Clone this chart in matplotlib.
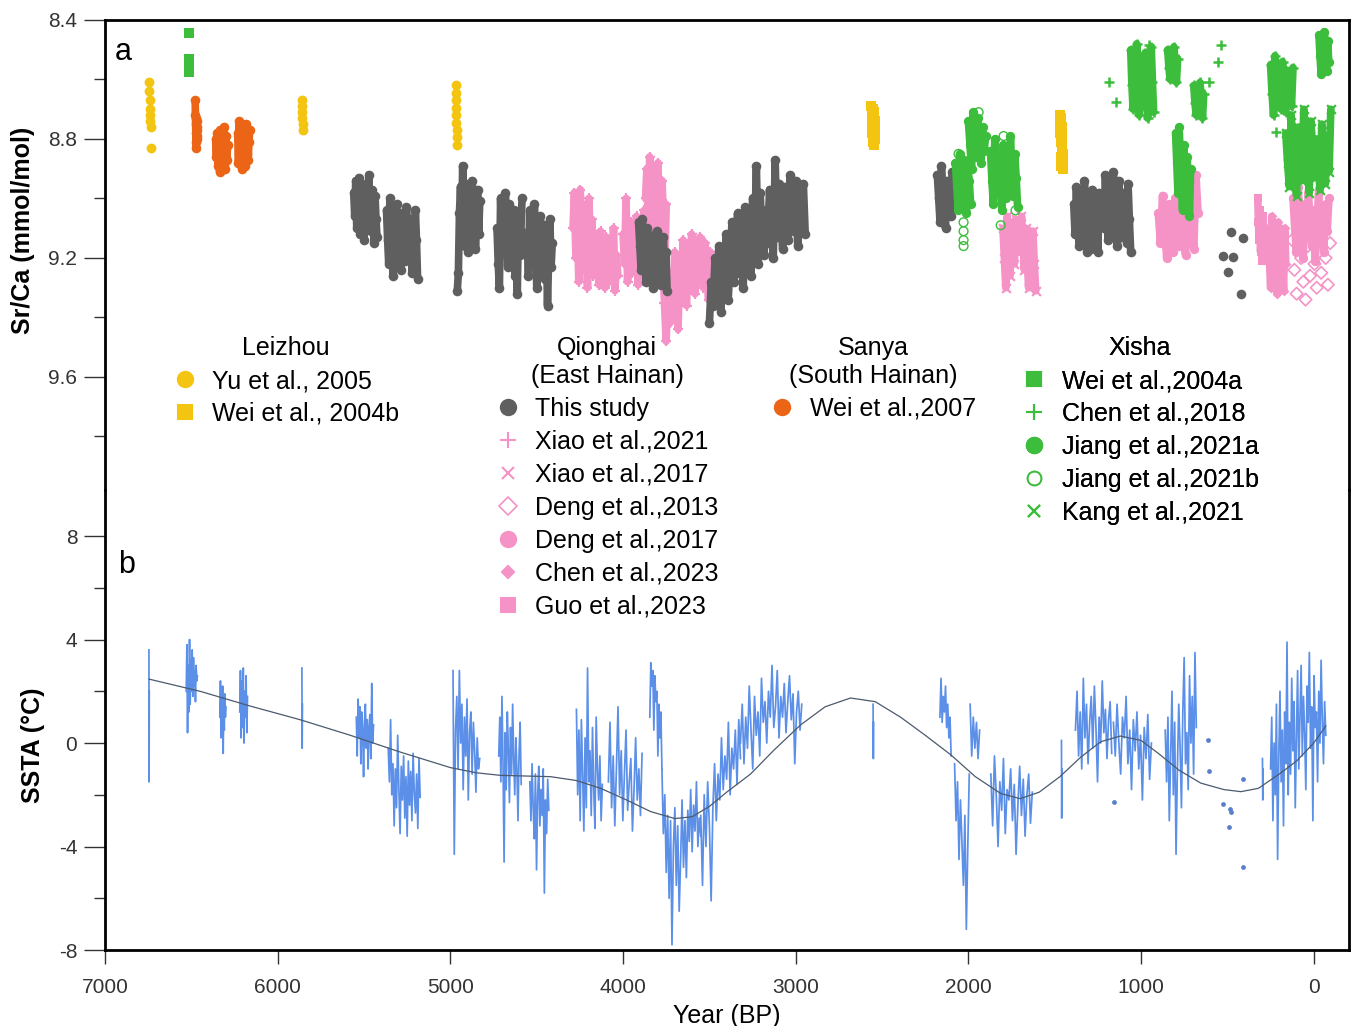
import numpy as np
import matplotlib.pyplot as plt
from matplotlib.lines import Line2D

plt.rcParams['font.family'] = ['Liberation Sans', 'DejaVu Sans']
plt.rcParams['axes.unicode_minus'] = False

YELLOW = '#f3c410'
ORANGE = '#ec6516'
GREY = '#5f5f5f'
PINK = '#f593c7'
GREEN = '#3cbd3c'
BLUE = '#5b8fe8'

# ---------------- panel a: Sr/Ca records (start age, end age, values) ----------------
yu2005 = [(6745, 6735, [8.61, 8.64, 8.67, 8.70, 8.72, 8.74, 8.76, 8.83]),
          (5862, 5855, [8.67, 8.69, 8.71, 8.73, 8.75, 8.77]),
          (4970, 4962, [8.62, 8.645, 8.67, 8.695, 8.72, 8.745, 8.77, 8.795, 8.82])]
wei2004b = [(2562, 2540, [8.69, 8.72, 8.75, 8.78, 8.81, 8.70, 8.73, 8.76, 8.79, 8.82, 8.71, 8.74, 8.77, 8.80]),
            (1470, 1452, [8.72, 8.75, 8.78, 8.81, 8.86, 8.89, 8.73, 8.76, 8.79, 8.82, 8.85, 8.88, 8.90])]
wei2007 = [(6478, 6465, [8.67, 8.72, 8.75, 8.78, 8.81, 8.83, 8.73, 8.76, 8.79, 8.74, 8.77, 8.80]),
           (6360, 6290, [8.80, 8.86, 8.78, 8.89, 8.83, 8.91, 8.77, 8.85, 8.81, 8.88, 8.76, 8.84, 8.90, 8.79, 8.87, 8.82]),
           (6232, 6162, [8.78, 8.88, 8.74, 8.84, 8.80, 8.90, 8.76, 8.86, 8.82, 8.89, 8.75, 8.85, 8.79, 8.87, 8.81, 8.77])]
wei2004a = [(6514, 6512, [8.445, 8.53, 8.55, 8.575])]

this_study = [
    (5560, 5425, [8.98, 9.06, 8.94, 9.10, 9.02, 8.93, 9.12, 9.00, 9.08, 8.96, 9.14, 9.04, 8.95, 9.09,
                  9.01, 8.92, 9.06, 9.11, 8.97, 9.03, 9.15, 8.99, 9.07, 9.13]),
    (5370, 5190, [9.04, 9.14, 9.22, 9.00, 9.10, 9.18, 9.26, 9.06, 9.16, 9.02, 9.12, 9.20, 9.08, 9.24, 9.05,
                  9.15, 9.11, 9.21, 9.03, 9.13, 9.19, 9.07, 9.17, 9.25, 9.09, 9.23, 9.04, 9.14, 9.27]),
    (4960, 4830, [9.31, 9.25, 9.05, 8.96, 9.12, 8.89, 9.00, 9.16, 8.95, 9.08, 9.18, 8.98, 9.04, 9.14, 8.94,
                  9.10, 9.02, 9.17, 9.06, 8.97, 9.12, 9.01]),
    (4730, 4585, [9.10, 9.22, 9.30, 9.00, 9.14, 9.06, 9.18, 8.98, 9.10, 9.23, 9.02, 9.16, 9.08, 9.20, 9.04,
                  9.26, 9.12, 9.32, 9.06, 9.19, 9.11, 9.00]),
    (4555, 4410, [9.12, 9.26, 9.04, 9.18, 9.08, 9.22, 9.02, 9.14, 9.30, 9.10, 9.20, 9.06, 9.16, 9.24, 9.09,
                  9.27, 9.13, 9.36, 9.19, 9.07, 9.23, 9.15]),
    (3910, 3745, [9.08, 9.16, 9.24, 9.07, 9.12, 9.20, 9.28, 9.10, 9.18, 9.26, 9.14, 9.22, 9.30, 9.12, 9.19,
                  9.11, 9.25, 9.16, 9.29, 9.21, 9.13, 9.27, 9.18, 9.31]),
    (3500, 2945, [9.42, 9.28, 9.36, 9.20, 9.32, 9.16, 9.38, 9.24, 9.30, 9.12, 9.34, 9.22, 9.08, 9.28, 9.18,
                  9.05, 9.25, 9.14, 9.30, 9.03, 9.20, 9.10, 9.26, 9.00, 9.16, 8.89, 9.22, 8.98, 9.12, 9.19,
                  9.04, 9.15, 8.97, 9.10, 9.20, 8.87, 9.13, 8.95, 9.08, 9.17, 8.96, 9.06, 9.14, 8.92, 9.02,
                  9.11, 8.94, 9.16, 9.00, 9.08, 8.95, 9.12]),
    (2180, 2085, [8.92, 9.00, 9.08, 8.89, 8.96, 9.04, 9.10, 8.94, 9.02, 8.98, 9.06, 8.91, 9.00]),
    (1390, 1235, [9.02, 9.12, 8.96, 9.08, 9.16, 8.99, 9.06, 9.14, 8.94, 9.04, 9.18, 9.00, 9.10, 9.17, 8.97,
                  9.07, 9.13, 9.03, 9.18, 8.98, 9.09]),
    (1222, 1060, [9.00, 9.10, 8.92, 9.06, 9.14, 8.96, 9.04, 9.12, 8.91, 9.02, 9.08, 9.16, 8.94, 9.06, 9.13,
                  8.98, 9.10, 9.01, 9.15, 8.95, 9.07, 9.18]),
]
this_study_age = [527, 498, 481, 469, 423, 411]
this_study_val = [9.193, 9.247, 9.113, 9.197, 9.321, 9.133]

xiao2021 = [
    (4290, 4030, [9.10, 8.98, 9.20, 9.05, 9.28, 8.97, 9.15, 9.02, 9.24, 9.10, 9.30, 9.00, 9.18, 9.07, 9.26,
                  9.12, 9.22, 9.15, 9.29, 9.11, 9.25, 9.17, 9.30, 9.13, 9.21, 9.28, 9.16, 9.24, 9.10, 9.31,
                  9.19, 9.26]),
    (4000, 3870, [9.12, 9.22, 9.00, 9.28, 9.16, 9.08, 9.25, 9.13, 9.20, 9.06, 9.29, 9.18, 9.10, 9.24, 9.04, 9.19]),
    (3870, 3750, [9.00, 8.90, 9.10, 8.86, 8.96, 9.06, 8.92, 9.14, 8.98, 8.88, 9.04, 9.18, 8.94, 9.08, 9.22, 9.02]),
    (3770, 3495, [9.20, 9.35, 9.48, 9.30, 9.42, 9.25, 9.38, 9.18, 9.32, 9.44, 9.22, 9.34, 9.14, 9.28, 9.36,
                  9.16, 9.30, 9.12, 9.24, 9.32, 9.15, 9.27, 9.13, 9.22, 9.30, 9.15, 9.26, 9.34, 9.18]),
]
xiao2017 = [(1800, 1610, [9.10, 9.20, 9.30, 9.06, 9.16, 9.26, 9.08, 9.12, 9.22, 9.07, 9.14, 9.09, 9.18, 9.06,
                          9.13, 9.24, 9.10, 9.20, 9.30, 9.15, 9.26, 9.11, 9.22, 9.31])]
deng2017 = [(900, 670, [9.05, 9.15, 8.99, 9.10, 9.20, 9.02, 9.12, 9.18, 9.00, 9.08, 9.16, 9.04, 9.13, 9.19,
                        9.06, 8.95, 9.10, 9.17, 8.92, 9.05]),
            (120, -88, [9.00, 9.10, 9.18, 8.96, 9.06, 9.14, 9.20, 9.02, 9.12, 8.98, 9.08, 9.16, 9.04, 9.21,
                        9.10, 8.97, 9.14, 9.06, 9.18, 9.02, 9.11, 9.00])]
guo2023 = [(324, 292, [9.00, 9.08, 9.14, 9.04, 9.18, 9.10, 9.21, 9.06, 9.16])]
chen2023 = [(262, 162, [9.10, 9.22, 9.30, 9.06, 9.16, 9.26, 9.12, 9.20, 9.32, 9.08, 9.18, 9.28, 9.14, 9.24,
                        9.31, 9.10, 9.22])]
deng2013 = [(125, -95, [9.14, 9.24, 9.32, 9.10, 9.20, 9.28, 9.34, 9.16, 9.26, 9.12, 9.22, 9.30, 9.18, 9.25,
                        9.08, 9.20, 9.29, 9.15])]

chen2018 = [(1060, 927, [8.50, 8.62, 8.70, 8.55, 8.66, 8.48, 8.60, 8.72, 8.53, 8.64, 8.58, 8.69, 8.51, 8.63,
                         8.73, 8.57, 8.67, 8.49, 8.61, 8.71]),
            (846, 788, [8.50, 8.56, 8.60, 8.52, 8.58, 8.49, 8.55, 8.61, 8.53]),
            (695, 637, [8.62, 8.68, 8.72, 8.64, 8.70, 8.61, 8.66, 8.73, 8.65]),
            (250, 120, [8.55, 8.65, 8.72, 8.52, 8.60, 8.68, 8.58, 8.70, 8.54, 8.63, 8.71, 8.57, 8.66, 8.62,
                        8.69, 8.56])]
chen2018_age = [1188, 1147, 956, 608, 556, 539, 220]
chen2018_val = [8.608, 8.676, 8.484, 8.608, 8.541, 8.484, 8.776]
jiang2021a = [(2075, 1987, [8.88, 8.96, 9.04, 8.85, 8.92, 9.00, 8.87, 8.98, 9.05, 8.90, 8.94, 9.02]),
              (2000, 1900, [8.74, 8.82, 8.90, 8.71, 8.78, 8.86, 8.73, 8.80, 8.88, 8.76, 8.84, 8.79]),
              (1872, 1715, [8.84, 8.94, 9.02, 8.80, 8.90, 8.98, 8.86, 8.96, 9.04, 8.82, 8.92, 9.00, 8.88, 8.95,
                            8.79, 8.91, 8.99, 8.85, 8.93, 9.03]),
              (800, 713, [8.78, 8.88, 8.98, 8.76, 8.84, 8.94, 9.04, 8.82, 8.92, 9.00, 8.86, 8.96, 9.06, 8.90]),
              (-30, -87, [8.45, 8.52, 8.58, 8.48, 8.55, 8.44, 8.50, 8.57, 8.47, 8.54])]
jiang2021b_age = [2028, 2028, 2028, 2028, 1813, 1941, 2057, 1796, 1727]
jiang2021b_val = [9.08, 9.11, 9.14, 9.16, 9.09, 8.71, 8.85, 8.79, 9.04]
kang2021 = [(162, -99, [8.78, 8.88, 8.96, 8.72, 8.84, 8.92, 8.99, 8.76, 8.86, 8.94, 8.70, 8.82, 8.90, 8.98,
                        8.74, 8.85, 8.93, 8.80, 8.89, 8.97, 8.75, 8.87, 8.95, 8.79, 8.91, 8.70])]

# ---------------- panel b: SSTA segments (start age, end age, values) ----------------
ssta = [
    (6746, 6744, [3.6, -1.5, 2.0]),
    (6530, 6465, [2.0, 3.8, 0.4, 3.0, 1.2, 4.0, 1.5, 3.2, 2.0, 3.6, 1.8, 3.3, 2.2, 2.8, 1.6, 3.0, 2.4, 2.6]),
    (6335, 6300, [1.0, 2.4, 0.2, 1.8, 0.8, 2.2, -0.4, 1.5, 0.5, 1.9, 1.0, 1.4]),
    (6220, 6175, [1.2, 2.8, 0.2, 2.4, 0.6, 2.9, 0.0, 2.0, 1.0, 2.6, 0.4, 1.8]),
    (5860, 5857, [2.9, -0.2, 1.5]),
    (5545, 5445, [1.0, -0.5, 1.7, 0.2, 1.4, -0.8, 1.2, 0.5, -1.3, 0.8, 1.5, -0.2, 0.9, -1.0, 0.6, 1.1, -0.6,
                  2.3, 0.0, 0.7]),
    (5360, 5175, [-0.2, -1.5, 0.9, -2.0, -0.8, -3.2, -1.0, -2.5, 0.3, -1.8, -3.5, -0.9, -2.2, -0.5, -2.9, -1.3,
                  -3.6, -0.7, -2.4, -1.1, -3.0, -0.4, -1.9, -2.7, -1.2, -3.3, -0.6, -2.1]),
    (4985, 4830, [2.8, -4.3, 0.5, 1.8, -1.0, 2.8, 0.0, 1.5, -1.8, 1.0, -0.5, 1.7, -2.2, 0.4, 1.2, -1.2, 0.8,
                  -0.3, -1.9, 0.2, -1.0, -0.6]),
    (4720, 4590, [-0.5, 1.0, -1.5, 1.8, -0.8, -4.6, 0.4, -1.8, 1.2, -0.2, -2.3, 0.6, -1.2, 1.5, -0.6, -2.0, 0.2,
                  -1.0, -3.0, -0.4, 0.8, -1.6]),
    (4540, 4430, [-1.5, -3.0, -0.8, -2.5, -3.7, -1.2, -4.9, -2.0, -0.9, -3.2, -1.8, -2.8, -1.0, -5.8, -2.2,
                  -3.5, -1.4, -2.6]),
    (4270, 4120, [1.3, -2.0, 0.5, -3.0, 0.9, -1.2, -3.4, 0.2, -2.5, 2.9, -1.5, -0.3, -2.8, 0.6, -1.8, -3.3, 1.0,
                  -1.0, -2.2, -0.5, -3.0, -1.6]),
    (4085, 3890, [-1.5, 0.8, -2.5, -0.5, -3.2, -1.0, 1.4, -2.0, -0.3, -3.0, -1.2, 0.5, -2.6, -1.5, -0.6, -3.4,
                  -1.8, 0.2, -2.2, -1.0, -2.8, -0.4]),
    (3845, 3775, [1.0, 3.1, 2.2, 2.8, 0.5, 2.6, 1.6, 2.0, -0.5, 1.5, 0.2, 1.2, -1.0]),
    (3775, 3550, [-1.0, -3.5, -2.0, -5.0, -2.8, -6.0, -3.0, -7.8, -4.0, -2.5, -5.5, -3.2, -6.5, -4.5, -2.2,
                  -4.8, -3.0, -5.2, -2.6, -3.8, -1.8, -4.2, -2.4, -3.4, -1.5, -4.0, -2.9, -3.6]),
    (3550, 3320, [-2.8, -5.5, -2.0, -4.0, -1.5, -3.2, -6.1, -2.5, -0.8, -3.0, -1.2, -2.2, 0.2, -1.8, -0.5, -1.4,
                  0.8, -2.0, -0.2, -1.0, 0.5, -1.6, 0.9, -0.6]),
    (3320, 2965, [0.0, 1.5, -0.8, 1.0, -0.2, 2.2, 0.5, -1.0, 1.8, 0.3, 1.2, -0.5, 2.5, 0.8, 1.6, 0.0, 2.0, 1.0,
                  3.0, 0.6, 1.4, 2.8, 0.2, 1.8, 1.0, 2.3, 0.4, 1.6, 2.6, 0.9, 1.9, -0.8, 1.2, 2.0, 0.5, 1.5]),
    (2552, 2549, [1.5, -0.6, 0.8]),
    (2165, 2100, [1.0, 2.5, 0.8, 1.8, 1.2, 2.2, 0.6, 1.5, 0.2, 1.0, -0.5]),
    (2080, 1995, [-0.8, -3.0, -1.5, -4.5, -2.2, -3.8, -5.5, -2.8, -7.2, -4.0, -1.2]),
    (1990, 1935, [1.5, -0.5, 1.0, -0.2, 0.8, -0.6, 0.5]),
    (1870, 1630, [-1.2, -3.2, -0.5, -2.0, -4.0, -1.5, -2.6, -0.6, -3.5, -1.8, -2.2, -1.0, -3.0, -1.6, -4.3,
                  -2.4, -0.9, -2.8, -1.4, -3.6, -2.0, -1.2, -3.1, -1.9]),
    (1461, 1458, [0.1, -2.9, -1.0]),
    (1380, 1170, [0.5, 2.0, -0.5, 1.2, -1.0, 2.5, 0.2, 1.5, -0.8, 0.8, 1.8, -0.2, 2.2, 0.6, -1.5, 1.0, 0.0, 2.4,
                  0.4, 1.3, -0.6, 0.9, 1.6, -0.4]),
    (1160, 940, [0.8, -0.5, 1.5, 0.0, -1.2, 1.0, 0.2, 1.8, -0.8, 0.5, -1.8, 0.9, -0.3, 1.2, -1.0, 0.3, -2.2, 0.6,
                 -0.6, 1.1, -1.4, 0.0]),
    (860, 680, [0.5, -1.5, 1.0, -3.0, -0.5, 2.0, -2.0, 0.8, -4.3, -1.0, 1.5, -0.2, -2.5, 1.2, 3.3, -0.8, 0.4,
                -1.8, 2.6, 0.0, 1.8, -1.2, 3.5, 0.6]),
    (297, 293, [-0.6, -2.2, -1.0]),
    (250, -70, [-1.0, 1.0, -3.0, 0.0, -2.0, 1.5, -4.5, -0.5, 2.0, -1.5, 0.5, -3.2, 1.2, -0.8, 3.9, -2.0, 0.8,
                -1.2, 2.5, -0.3, 1.6, -2.5, 0.2, 2.8, -1.0, 1.0, 3.0, -0.5, 1.8, 0.4, -1.8, 2.2, 0.8, 3.5, -0.2,
                1.4, -3.0, 2.6, 0.6, 1.2, -1.5, 2.0, 0.0, 3.2, 0.9, -0.8, 1.6, 0.3]),
]
ssta_dot_age = [614, 608, 1159, 527, 486, 481, 492, 411, 411]
ssta_dot_val = [0.12, -1.08, -2.28, -2.36, -2.55, -2.67, -3.25, -1.39, -4.79]

smooth_age = [6745, 6450, 6160, 5870, 5580, 5290, 5000, 4850, 4710, 4420, 4270, 4130, 3980, 3840, 3700,
              3600, 3500, 3400, 3262, 3130, 2972, 2830, 2683, 2540, 2393, 2250, 2103, 1960, 1813, 1700,
              1590, 1470, 1350, 1234, 1120, 1000, 900, 780, 654, 520, 422, 320, 200, 100, 0, -70]
smooth_val = [2.47, 2.0, 1.43, 0.9, 0.3, -0.35, -0.95, -1.15, -1.25, -1.3, -1.45, -1.75, -2.2, -2.65, -2.92,
              -2.85, -2.45, -1.9, -1.2, -0.3, 0.7, 1.4, 1.74, 1.6, 1.0, 0.3, -0.45, -1.3, -1.95, -2.15,
              -1.9, -1.3, -0.55, 0.05, 0.27, 0.1, -0.4, -1.05, -1.55, -1.8, -1.88, -1.75, -1.2, -0.7, 0.0, 0.66]


def draw_records(ax, records, color, marker, s, lw=0.0, band=True, z=3, **kw):
    # each coral record is a dense series; a thick line through its samples gives the solid cloud
    for start, end, vals in records:
        ages = np.linspace(start, end, len(vals))
        if band:
            ax.plot(ages, vals, color=color, lw=5.5, solid_joinstyle='round',
                    solid_capstyle='round', zorder=z)
        ax.scatter(ages, vals, color=color, marker=marker, s=s, linewidths=lw, zorder=z, **kw)


fig = plt.figure(figsize=(13.54, 10.26), dpi=100)
ax_b = fig.add_axes([0.0776, 0.07407, 0.9188, 0.44835])
ax_a = fig.add_axes([0.0776, 0.52242, 0.9188, 0.45809], sharex=ax_b)
ax_a.patch.set_visible(False)

# --- panel a: pink first, grey above, green on top
draw_records(ax_a, xiao2021, PINK, '+', 55, lw=1.6, z=2)
draw_records(ax_a, xiao2017, PINK, 'x', 40, lw=1.6, z=2)
draw_records(ax_a, deng2017, PINK, 'o', 45, z=2)
draw_records(ax_a, chen2023, PINK, 'D', 25, z=2)
draw_records(ax_a, guo2023, PINK, 's', 40, z=2)
for start, end, vals in deng2013:
    ax_a.scatter(np.linspace(start, end, len(vals)), vals, marker='D', s=40, facecolors='none',
                 edgecolors=PINK, linewidths=1.2, zorder=2)

draw_records(ax_a, yu2005, YELLOW, 'o', 50, band=False)
draw_records(ax_a, wei2004b, YELLOW, 's', 42)
draw_records(ax_a, wei2007, ORANGE, 'o', 48)
draw_records(ax_a, wei2004a, GREEN, 's', 45, band=False)
draw_records(ax_a, this_study, GREY, 'o', 48)
ax_a.scatter(this_study_age, this_study_val, color=GREY, marker='o', s=48, linewidths=0, zorder=3)

draw_records(ax_a, chen2018, GREEN, '+', 55, lw=1.8, z=4)
ax_a.scatter(chen2018_age, chen2018_val, color=GREEN, marker='+', s=55, linewidths=1.8, zorder=4)
draw_records(ax_a, jiang2021a, GREEN, 'o', 45, z=4)
ax_a.scatter(jiang2021b_age, jiang2021b_val, facecolors='none', edgecolors=GREEN, marker='o', s=40,
             linewidths=1.0, zorder=4)
draw_records(ax_a, kang2021, GREEN, 'x', 40, lw=1.6, z=4)

ax_a.set_ylim(9.98, 8.4)
ax_a.set_yticks([8.4, 8.8, 9.2, 9.6])
ax_a.set_yticks([8.6, 9.0, 9.4, 9.8], minor=True)
ax_a.set_ylabel('Sr/Ca (mmol/mol)', fontsize=18, fontweight='bold')
ax_a.yaxis.set_label_coords(-0.0563, 0.553)
ax_a.spines['bottom'].set_visible(False)
ax_a.tick_params(axis='x', which='both', bottom=False, labelbottom=False)
ax_a.text(0.0145, 0.932, 'a', transform=ax_a.transAxes, fontsize=22, va='center', ha='center')

# --- panel b
for start, end, vals in ssta:
    ages = np.linspace(start, end, len(vals))
    ax_b.plot(ages, vals, color=BLUE, lw=1.25, zorder=2)
ax_b.scatter(ssta_dot_age, ssta_dot_val, color='#5a80cc', s=12, linewidths=0, zorder=3)
ax_b.plot(smooth_age, smooth_val, color='#4b5a6e', lw=0.9, zorder=4)

ax_b.set_ylim(-8, 9.78)
ax_b.set_yticks([-8, -4, 0, 4, 8])
ax_b.set_yticks([-6, -2, 2, 6], minor=True)
ax_b.set_ylabel('SSTA (\u00b0C)', fontsize=18, fontweight='bold')
ax_b.yaxis.set_label_coords(-0.048, 0.446)
ax_b.spines['top'].set_visible(False)
ax_b.text(0.017, 0.837, 'b', transform=ax_b.transAxes, fontsize=22, va='center', ha='center')

ax_b.set_xlim(7000, -205)
ax_b.set_xticks([7000, 6000, 5000, 4000, 3000, 2000, 1000, 0])
ax_b.set_xlabel('Year (BP)', fontsize=18, labelpad=5)

for ax in (ax_a, ax_b):
    for sp in ax.spines.values():
        sp.set_linewidth(2)
    ax.tick_params(axis='y', which='major', length=15, width=1, labelsize=15, pad=5,
                   colors='#333333', direction='out')
    ax.tick_params(axis='y', which='minor', length=8, width=1, colors='#333333', direction='out')
ax_b.tick_params(axis='x', which='major', length=10, width=1, labelsize=15, pad=10,
                 colors='#333333', direction='out')


# --- grouped legends
def mk(marker, color, size=11, filled=True, mew=1.5):
    return Line2D([], [], linestyle='none', marker=marker, markersize=size,
                  markerfacecolor=color if filled else 'none', markeredgecolor=color, markeredgewidth=mew)


groups = [
    ('Leizhou', 0.2112, [(mk('o', YELLOW), 'Yu et al., 2005'), (mk('s', YELLOW, 10), 'Wei et al., 2004b')]),
    ('Qionghai\n(East Hainan)', 0.4483, [(mk('o', GREY), 'This study'),
                                         (mk('+', PINK, 12), 'Xiao et al.,2021'),
                                         (mk('x', PINK, 9), 'Xiao et al.,2017'),
                                         (mk('D', PINK, 9, filled=False, mew=1.2), 'Deng et al.,2013'),
                                         (mk('o', PINK), 'Deng et al.,2017'),
                                         (mk('D', PINK, 6), 'Chen et al.,2023'),
                                         (mk('s', PINK, 10), 'Guo et al.,2023')]),
    ('Sanya\n(South Hainan)', 0.6448, [(mk('o', ORANGE), 'Wei et al.,2007')]),
    ('Xisha', 0.842, [(mk('s', GREEN, 10), 'Wei et al.,2004a'), (mk('+', GREEN, 12), 'Chen et al.,2018'),
                      (mk('o', GREEN), 'Jiang et al.,2021a'),
                      (mk('o', GREEN, 10, filled=False, mew=1.2), 'Jiang et al.,2021b'),
                      (mk('x', GREEN, 9), 'Kang et al.,2021')]),
]
for title, cx, entries in groups:
    leg = ax_a.legend([h for h, _ in entries], [t for _, t in entries], title=title,
                      loc='upper center', bbox_to_anchor=(cx, 1 - 336 / 1026), bbox_transform=fig.transFigure,
                      frameon=False, fontsize=18, title_fontsize=18, handlelength=1.0, handletextpad=0.6,
                      labelspacing=0.36, borderpad=0, borderaxespad=0)
    leg.get_title().set_multialignment('center')
    leg.set_zorder(10)
    ax_a.add_artist(leg)

fig.savefig('out.png', dpi=100, facecolor='white')
